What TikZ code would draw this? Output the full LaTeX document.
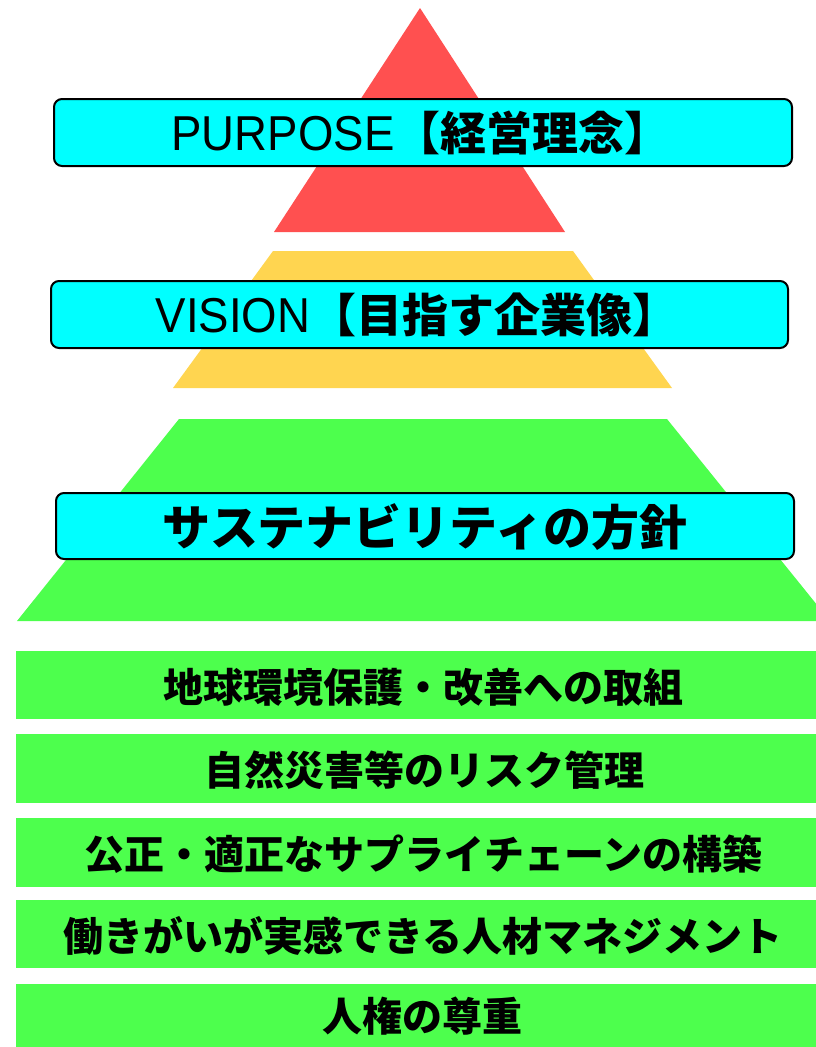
\documentclass[tikz,border=0pt]{standalone}
\usepackage{fontspec}
\newfontfamily\jp{Noto Sans CJK JP}
\newfontfamily\lat{Liberation Sans}[FakeStretch=0.93]
\definecolor{pred}{RGB}{255,80,80}
\definecolor{pyel}{RGB}{255,213,80}
\definecolor{pgrn}{RGB}{77,255,77}
\definecolor{pcyan}{RGB}{0,255,255}
\tikzset{
  titlebox/.style={draw=black, line width=2pt, fill=pcyan, rounded corners=8pt, inner sep=0pt},
  rowbox/.style={fill=pgrn, draw=none},
  rowtext/.style={font=\jp\bfseries\fontsize{40}{40}\selectfont, inner sep=0pt, anchor=center},
}
\begin{document}
\begin{tikzpicture}[x=1pt,y=-1pt]
\useasboundingbox (0,0) rectangle (816,1047);
\clip (0,0) rectangle (816,1047);
% pyramid layers
\fill[pred] (420,8) -- (565,232) -- (274,232) -- cycle;
\fill[pyel] (273,251) -- (573,251) -- (672,388) -- (173,388) -- cycle;
\fill[pgrn] (179,419) -- (667,419) -- (830,621) -- (17,621) -- cycle;
% title boxes
\node[titlebox, minimum width=738pt, minimum height=67pt] (purpose) at (423,132.5) {};
\node[inner sep=0pt] (purposet) at (421,133) {{\lat\fontsize{49}{49}\selectfont PURPOSE}{\jp\bfseries\fontsize{46}{46}\selectfont 【経営理念】}};
\node[titlebox, minimum width=737pt, minimum height=67pt] (vision) at (419.5,314.5) {};
\node[inner sep=0pt] (visiont) at (417,315) {{\lat\fontsize{49}{49}\selectfont VISION}{\jp\bfseries\fontsize{46}{46}\selectfont 【目指す企業像】}};
\node[titlebox, minimum width=738pt, minimum height=66pt] (sust) at (425,526) {};
\node[inner sep=0pt] (sustt) at (425,527) {\jp\bfseries\fontsize{48}{48}\selectfont サステナビリティの方針};
% rows
\fill[rowbox] (16,651) rectangle (830,719);
\node[rowtext] (r1) at (423,687) {地球環境保護・改善への取組};
\fill[rowbox] (16,734) rectangle (830,803);
\node[rowtext] (r2) at (424,770) {自然災害等のリスク管理};
\fill[rowbox] (16,818) rectangle (830,887);
\node[rowtext] (r3) at (423,854) {公正・適正なサプライチェーンの構築};
\fill[rowbox] (16,900) rectangle (830,968);
\node[rowtext] (r4) at (423,936) {働きがいが実感できる人材マネジメント};
\fill[rowbox] (16,984) rectangle (830,1060);
\node[rowtext] (r5) at (422,1016) {人権の尊重};
\end{tikzpicture}
\end{document}
